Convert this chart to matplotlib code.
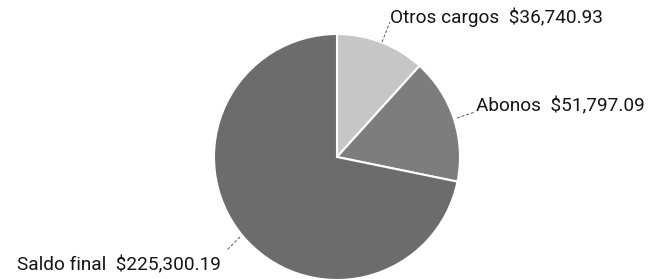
import matplotlib
matplotlib.use("Agg")
import matplotlib.pyplot as plt

labels = ["Otros cargos", "Abonos", "Saldo final"]
values = [36740.93, 51797.09, 225300.19]
colors = ["#c6c6c6", "#7d7d7d", "#6c6c6c"]

W, H = 650, 279
fig = plt.figure(figsize=(W / 100, H / 100), dpi=100)
fig.patch.set_facecolor("white")

cx, cy, r = 337, 279 - 157, 123
ax = fig.add_axes([(cx - r) / W, (cy - r) / H, 2 * r / W, 2 * r / H])
ax.pie(values, colors=colors, startangle=90, counterclock=False, radius=1,
       wedgeprops=dict(edgecolor="white", linewidth=1.5))
ax.set_xlim(-1, 1)
ax.set_ylim(-1, 1)
ax.set_aspect("equal")
ax.axis("off")

font = dict(family=["Roboto", "DejaVu Sans"], fontsize=13.7, color="#151515")


def px(x, y):
    # convert pixel coords (top-left origin) to axes data coords
    return ((x - 337) / r, (157 - y) / r)


texts = [f"{labels[0]}  ${values[0]:,.2f}",
         f"{labels[1]}  ${values[1]:,.2f}",
         f"{labels[2]}  ${values[2]:,.2f}"]

ann = [
    (texts[0], (382, 42), (390, 22), (390, 17), "left"),
    (texts[1], (457, 118), (475, 112), (476, 106), "left"),
    (texts[2], (240, 237), (227, 250), (221, 265), "right"),
]
for t, p0, p1, tp, ha in ann:
    a, b = px(*p0), px(*p1)
    ax.plot([a[0], b[0]], [a[1], b[1]], color="#555555", lw=0.7,
            linestyle=(0, (3, 2)), clip_on=False)
    tx, ty = px(*tp)
    ax.text(tx, ty, t, ha=ha, va="center", clip_on=False, **font)

fig.savefig("out.png", dpi=100, facecolor="white")
